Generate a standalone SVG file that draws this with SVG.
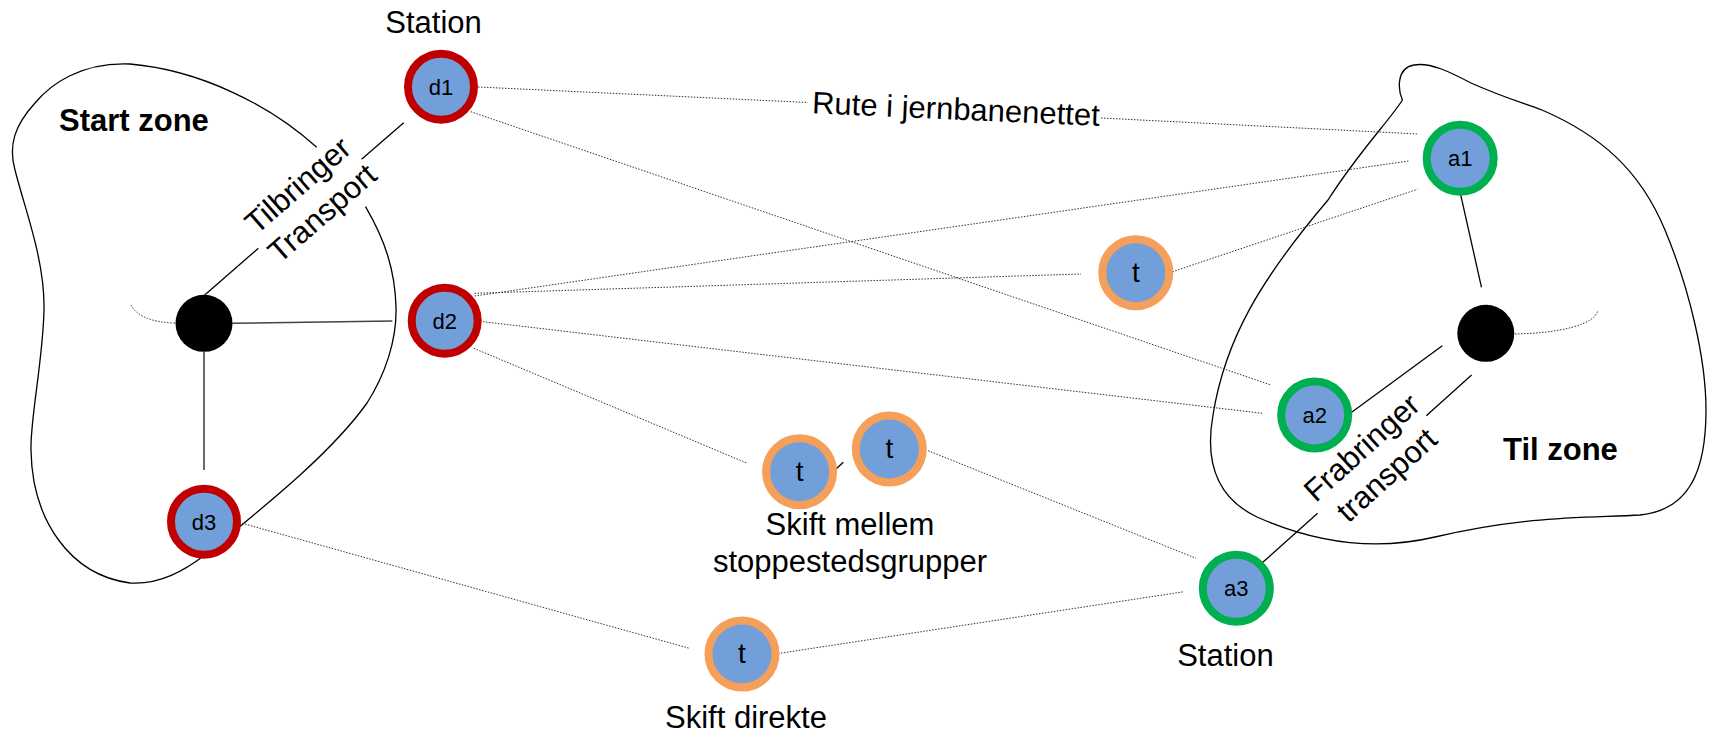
<svg xmlns="http://www.w3.org/2000/svg" width="1709" height="735" viewBox="0 0 1709 735">
<defs>
<style>
.zone{fill:none;stroke:#000;stroke-width:1.3}
.dot{fill:none;stroke:#333;stroke-width:1;stroke-dasharray:1.5 1.5}
.solid{fill:none;stroke:#000;stroke-width:1.3}
.solidg{fill:none;stroke:#444;stroke-width:1.6}
.hub{fill:#000}
.dep{fill:#729fd9;stroke:#c00000;stroke-width:8}
.arr{fill:#729fd9;stroke:#00b050;stroke-width:8}
.tr{fill:#729fd9;stroke:#f5a05a;stroke-width:8}
.nl{font-family:"Liberation Sans",Arial,sans-serif;font-size:22px;fill:#000;text-anchor:middle}
.tl{font-family:"Liberation Sans",Arial,sans-serif;font-size:28px;fill:#000;text-anchor:middle}
.lbl{font-family:"Liberation Sans",Arial,sans-serif;font-size:31px;fill:#000;text-anchor:middle}
.zl{font-family:"Liberation Sans",Arial,sans-serif;font-size:31px;font-weight:bold;fill:#000}
</style>
</defs>
<rect width="1709" height="735" fill="#fff"/>
<g id="zones">
<path class="zone" d="M316.7,147.3 C270,105 200,70 130,64 C80,62 50,85 35,103 C15,125 8,145 15,170 C25,210 45,260 44,310 C43,360 30,420 31,450 C32,520 70,575 130,583 C160,585 185,570 205,555 C260,510 330,455 367,403 C385,375 397,340 396,307 C395,270 385,240 365.5,206.7"/>
<path class="zone" d="M1402.4,100 C1398,90 1396,68 1414,65 C1430,62 1450,72 1471,83 C1500,96 1520,102 1542,110 C1600,135 1640,170 1665,230 C1690,290 1706,360 1706,410 C1706,470 1690,510 1640,515 C1590,518 1530,515 1435,537 C1380,550 1320,545 1257,517 C1215,497 1205,460 1213,415 C1225,340 1260,280 1328,200 C1360,150 1390,120 1402.4,100 Z"/>
<text class="zl" x="59" y="131">Start zone</text>
<text class="zl" x="1503" y="460">Til zone</text>
</g>
<g id="connectors">
<path class="dot" d="M131,305 Q140,322 175,323"/>
<path class="dot" d="M1515,334 C1560,333 1595,325 1598,310"/>
<line class="dot" x1="478" y1="87" x2="808" y2="102.5"/>
<line class="dot" x1="1101" y1="118" x2="1418" y2="134"/>
<line class="dot" x1="470.7" y1="111.7" x2="1271" y2="385"/>
<line class="dot" x1="474.6" y1="296" x2="1408.5" y2="161"/>
<line class="dot" x1="474.6" y1="293.3" x2="1081" y2="274"/>
<line class="dot" x1="1169.6" y1="272.7" x2="1417.4" y2="189.3"/>
<line class="dot" x1="483" y1="321.7" x2="1262.3" y2="413.3"/>
<line class="dot" x1="473.8" y1="348.3" x2="747.3" y2="463.3"/>
<line class="dot" x1="928.1" y1="450.7" x2="1196" y2="558.3"/>
<line class="dot" x1="242.2" y1="523.3" x2="689.3" y2="648.3"/>
<line class="dot" x1="775" y1="654" x2="1184" y2="591.7"/>
<line class="solid" x1="204.7" y1="295" x2="258.3" y2="248.3"/>
<line class="solid" x1="361.6" y1="159.3" x2="403.7" y2="122.7"/>
<line class="solidg" x1="232.3" y1="323.3" x2="392.3" y2="321"/>
<line class="solidg" x1="204" y1="351.7" x2="204" y2="470"/>
<line class="solid" x1="1460.2" y1="192.7" x2="1481.5" y2="287.3"/>
<line class="solid" x1="1442.3" y1="345.7" x2="1347.9" y2="415"/>
<line class="solid" x1="1471.6" y1="375" x2="1426.3" y2="415.7"/>
<line class="solid" x1="1317.6" y1="513.3" x2="1260.5" y2="564.3"/>
<line class="solid" x1="833" y1="471.7" x2="843.3" y2="462.3"/>
<text class="lbl" x="955.5" y="119.5" transform="rotate(2.5 955.5 119.5)">Rute i jernbanenettet</text>
<g transform="translate(310 199.3) rotate(-41)">
<text class="lbl" x="0" y="-8">Tilbringer</text>
<text class="lbl" x="0" y="29">Transport</text>
</g>
<g transform="translate(1374.2 461.3) rotate(-42)">
<text class="lbl" x="0" y="-8">Frabringer</text>
<text class="lbl" x="0" y="29">transport</text>
</g>
<text class="lbl" x="850" y="535">Skift mellem</text>
<text class="lbl" x="850" y="571.5">stoppestedsgrupper</text>
<text class="lbl" x="746" y="728">Skift direkte</text>
</g>
<g id="hub-start"><circle class="hub" cx="204" cy="323.3" r="28.5"/></g>
<g id="hub-end"><circle class="hub" cx="1485.8" cy="333.3" r="28.5"/></g>
<g id="d1"><circle class="dep" cx="441" cy="86.7" r="33"/><text class="nl" x="441" y="94.7">d1</text><text class="lbl" x="433.6" y="33">Station</text></g>
<g id="d2"><circle class="dep" cx="444.7" cy="320.7" r="33"/><text class="nl" x="444.7" y="328.7">d2</text></g>
<g id="d3"><circle class="dep" cx="204" cy="521.7" r="33"/><text class="nl" x="204" y="529.7">d3</text></g>
<g id="a1"><circle class="arr" cx="1460.2" cy="158.3" r="33.5"/><text class="nl" x="1460.2" y="166.3">a1</text></g>
<g id="a2"><circle class="arr" cx="1314.7" cy="415" r="33.5"/><text class="nl" x="1314.7" y="423">a2</text></g>
<g id="a3"><circle class="arr" cx="1236.3" cy="588.3" r="33.5"/><text class="nl" x="1236.3" y="596.3">a3</text><text class="lbl" x="1225.4" y="666">Station</text></g>
<g id="t1"><circle class="tr" cx="1135.8" cy="272.7" r="33.5"/><text class="tl" x="1135.8" y="282">t</text></g>
<g id="t2"><circle class="tr" cx="799.6" cy="471.7" r="33.5"/><text class="tl" x="799.6" y="481">t</text></g>
<g id="t3"><circle class="tr" cx="889.3" cy="449" r="33.5"/><text class="tl" x="889.3" y="458.3">t</text></g>
<g id="t4"><circle class="tr" cx="742" cy="654" r="33.5"/><text class="tl" x="742" y="663.3">t</text></g>
</svg>
